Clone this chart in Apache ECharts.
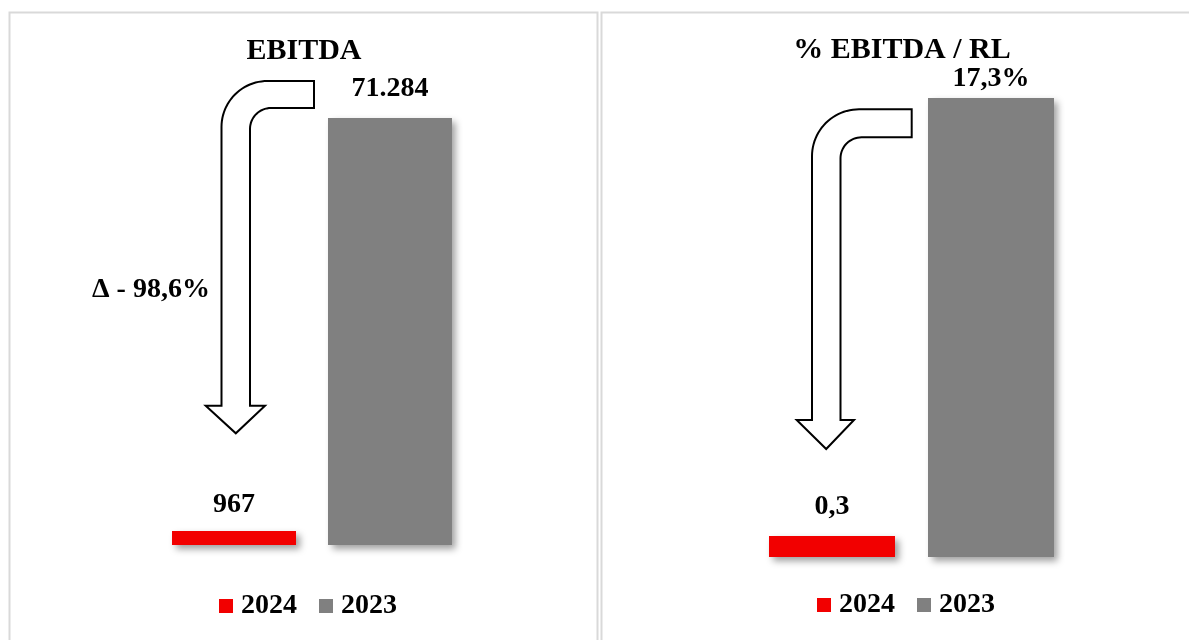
<!DOCTYPE html>
<html>
<head>
<meta charset="utf-8">
<script src="https://cdn.jsdelivr.net/npm/echarts@6/dist/echarts.min.js"></script>
<style>
html,body{margin:0;padding:0;background:#fff;}
#chart{width:1189px;height:640px;}
</style>
</head>
<body>
<div id="chart"></div>
<script>
// ---- data ----
const categories = ['EBITDA'];
const years = ['2024', '2023'];
const ebitda2024 = [967];
const ebitda2023 = [71284];
const margin2024 = [0.3];
const margin2023 = [17.3];
const marginSuffix = { '2024': '', '2023': '%' };
const titles = ['EBITDA', '% EBITDA / RL'];
const deltaText = '\u0394 - 98,6%';

const RED = '#f20000';
const GRAY = '#808080';
const FONT = '"Liberation Serif", "Times New Roman", serif';

function fmtThousands(v) {
  return String(Math.round(v)).replace(/\B(?=(\d{3})+(?!\d))/g, '.');
}
function fmtPct(v, year) {
  return v.toFixed(1).replace('.', ',') + marginSuffix[year];
}

const chart = echarts.init(document.getElementById('chart'), null, { renderer: 'canvas' });

const shadow = {
  shadowBlur: 7,
  shadowOffsetX: 4,
  shadowOffsetY: 4,
  shadowColor: 'rgba(0,0,0,0.38)'
};
const labelBase = {
  show: true,
  position: 'top',
  color: '#000',
  fontFamily: FONT,
  fontWeight: 'bold',
  fontSize: 28
};

// bent arrow outline as polygon points (arcs approximated by segments)
function arcPts(cx, cy, rad, a0, a1, n) {
  const pts = [];
  for (let i = 0; i <= n; i++) {
    const a = a0 + (a1 - a0) * i / n;
    pts.push([cx + rad * Math.cos(a), cy + rad * Math.sin(a)]);
  }
  return pts;
}
function arrowPoints(L1, L2, T1, T2, xEnd, R, r, headY, headL, headR, tipX, tipY) {
  let pts = [[xEnd, T1]];
  pts = pts.concat(arcPts(L1 + R, T1 + R, R, -Math.PI / 2, -Math.PI, 24));
  pts.push([L1, headY], [headL, headY], [tipX, tipY], [headR, headY], [L2, headY]);
  pts = pts.concat(arcPts(L2 + r, T2 + r, r, Math.PI, Math.PI * 1.5, 16));
  pts.push([xEnd, T2]);
  return pts;
}

const textStyleCommon = {
  fill: '#000',
  font: 'bold 30px ' + FONT,
  textAlign: 'center',
  align: 'center',
  textVerticalAlign: 'middle',
  verticalAlign: 'middle'
};

const legendText = { fontFamily: FONT, fontWeight: 'bold', fontSize: 28, color: '#000', lineHeight: 28, padding: [0, 0, 0, 3] };

const option = {
  backgroundColor: '#fff',
  animation: false,
  grid: [
    { left: 30, width: 564, top: 118, bottom: 95 },
    { left: 640, width: 543, top: 98, bottom: 83 }
  ],
  xAxis: [
    { type: 'category', gridIndex: 0, data: categories, show: false },
    { type: 'category', gridIndex: 1, data: categories, show: false }
  ],
  yAxis: [
    { type: 'value', gridIndex: 0, min: 0, max: 'dataMax', show: false },
    { type: 'value', gridIndex: 1, min: 0, max: 'dataMax', show: false }
  ],
  legend: [
    {
      data: years, left: 214, top: 587, padding: 5, itemWidth: 14, itemHeight: 14, itemGap: 22,
      icon: 'rect', selectedMode: false, textStyle: legendText
    },
    {
      data: years, left: 812, top: 586, padding: 5, itemWidth: 14, itemHeight: 14, itemGap: 22,
      icon: 'rect', selectedMode: false, textStyle: legendText
    }
  ],
  series: [
    {
      name: years[0], type: 'bar', xAxisIndex: 0, yAxisIndex: 0, data: ebitda2024,
      barWidth: 124, barGap: '25.8%', barMinHeight: 14,
      itemStyle: Object.assign({ color: RED }, shadow),
      label: Object.assign({}, labelBase, { distance: 12, formatter: p => fmtThousands(p.value) })
    },
    {
      name: years[1], type: 'bar', xAxisIndex: 0, yAxisIndex: 0, data: ebitda2023,
      barWidth: 124, barGap: '25.8%',
      itemStyle: Object.assign({ color: GRAY }, shadow),
      label: Object.assign({}, labelBase, { distance: 15, formatter: p => fmtThousands(p.value) })
    },
    {
      name: years[0], type: 'bar', xAxisIndex: 1, yAxisIndex: 1, data: margin2024,
      barWidth: 126, barGap: '26.2%', barMinHeight: 21,
      itemStyle: Object.assign({ color: RED }, shadow),
      label: Object.assign({}, labelBase, { distance: 15, formatter: p => fmtPct(p.value, years[0]) })
    },
    {
      name: years[1], type: 'bar', xAxisIndex: 1, yAxisIndex: 1, data: margin2023,
      barWidth: 126, barGap: '26.2%',
      itemStyle: Object.assign({ color: GRAY }, shadow),
      label: Object.assign({}, labelBase, { distance: 5, formatter: p => fmtPct(p.value, years[1]) })
    }
  ],
  graphic: [
    { type: 'rect', z: -10, silent: true, shape: { x: 9.5, y: 12.5, width: 588, height: 700 },
      style: { fill: 'none', stroke: '#d9d9d9', lineWidth: 2 } },
    { type: 'rect', z: -10, silent: true, shape: { x: 601.5, y: 12.5, width: 700, height: 700 },
      style: { fill: 'none', stroke: '#d9d9d9', lineWidth: 2 } },
    { type: 'text', x: 304, y: 51, style: Object.assign({}, textStyleCommon, { text: titles[0] }) },
    { type: 'text', x: 902, y: 50, style: Object.assign({}, textStyleCommon, { text: titles[1] }) },
    { type: 'text', x: 151, y: 290, style: Object.assign({}, textStyleCommon, { text: deltaText, font: 'bold 28px ' + FONT }) },
    { type: 'polygon', z: 10, silent: true, shape: { points: arrowPoints(221.5, 250, 81, 108, 314, 46, 21, 405.7, 205.7, 265, 235.8, 433.3) },
      style: { fill: '#fff', stroke: '#000', lineWidth: 2 } },
    { type: 'polygon', z: 10, silent: true, shape: { points: arrowPoints(812, 840.5, 109.3, 137.3, 911.7, 47, 21, 420, 796.7, 854, 826.2, 449) },
      style: { fill: '#fff', stroke: '#000', lineWidth: 2 } }
  ]
};

chart.setOption(option);
</script>
</body>
</html>
